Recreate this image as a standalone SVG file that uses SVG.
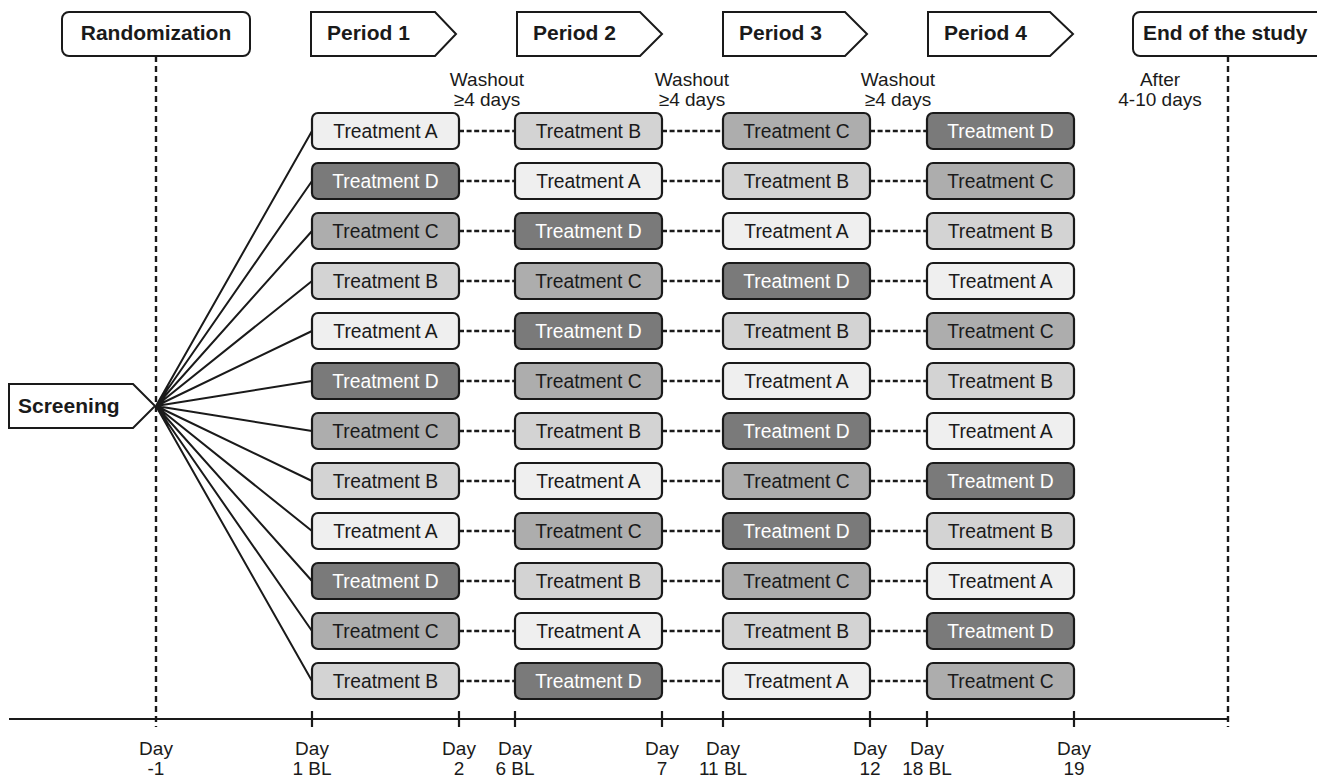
<svg xmlns="http://www.w3.org/2000/svg" width="1317" height="777" viewBox="0 0 1317 777">
<style>
.hdr{fill:#fff;stroke:#1a1a1a;stroke-width:2}
.ht{font-family:"Liberation Sans",Arial,sans-serif;font-weight:bold;font-size:21px;fill:#1a1a1a}
.lbl{font-family:"Liberation Sans",Arial,sans-serif;font-size:19px;fill:#1a1a1a;text-anchor:middle}
.bx{stroke:#1a1a1a;stroke-width:2.2}
.A{fill:#efefef}.B{fill:#d3d3d3}.C{fill:#adadad}.D{fill:#7a7a7a}
.tt{font-family:"Liberation Sans",Arial,sans-serif;font-size:19.3px;fill:#1a1a1a;text-anchor:middle}
.tw{fill:#ffffff}
.dash{stroke:#1a1a1a;stroke-width:2.4;stroke-dasharray:6,4;fill:none}
.cd{stroke:#1a1a1a;stroke-width:2.4;stroke-dasharray:5,2.6;fill:none}
.fan{stroke:#1a1a1a;stroke-width:2;fill:none}
.ax{stroke:#1a1a1a;stroke-width:2.2;fill:none}
</style>
<rect width="1317" height="777" fill="#fff"/>
<g id="timeline">
<line class="dash" x1="156" y1="56" x2="156" y2="727"/>
<line class="dash" x1="1228" y1="56" x2="1228" y2="727"/>
<line class="ax" x1="9" y1="719" x2="1228" y2="719"/>
<path class="ax" d="M312 711V727M459 711V727M515 711V727M662 711V727M723 711V727M870 711V727M927 711V727M1074 711V727"/>
<g class="lbl">
<text x="156" y="755">Day</text><text x="156" y="775">-1</text>
<text x="312" y="755">Day</text><text x="312" y="775">1 BL</text>
<text x="459" y="755">Day</text><text x="459" y="775">2</text>
<text x="515" y="755">Day</text><text x="515" y="775">6 BL</text>
<text x="662" y="755">Day</text><text x="662" y="775">7</text>
<text x="723" y="755">Day</text><text x="723" y="775">11 BL</text>
<text x="870" y="755">Day</text><text x="870" y="775">12</text>
<text x="927" y="755">Day</text><text x="927" y="775">18 BL</text>
<text x="1074" y="755">Day</text><text x="1074" y="775">19</text>
</g>
<g class="lbl">
<text x="487" y="86">Washout</text><text x="487" y="106">≥4 days</text>
<text x="692" y="86">Washout</text><text x="692" y="106">≥4 days</text>
<text x="898" y="86">Washout</text><text x="898" y="106">≥4 days</text>
<text x="1160" y="86">After</text><text x="1160" y="106">4-10 days</text>
</g>
</g>
<g id="randomization"><rect class="hdr" x="62" y="12" width="188" height="44" rx="7"/><text class="ht" x="156" y="40" text-anchor="middle">Randomization</text></g>
<g id="period1"><path class="hdr" d="M311 12H435L456 34L435 56H311Z"/><text class="ht" x="327" y="40">Period 1</text></g>
<g id="period2"><path class="hdr" d="M517 12H640L662 34L640 56H517Z"/><text class="ht" x="533" y="40">Period 2</text></g>
<g id="period3"><path class="hdr" d="M723 12H845L867 34L845 56H723Z"/><text class="ht" x="739" y="40">Period 3</text></g>
<g id="period4"><path class="hdr" d="M928 12H1050L1073 34L1050 56H928Z"/><text class="ht" x="944" y="40">Period 4</text></g>
<g id="end"><rect class="hdr" x="1133" y="12" width="200" height="44" rx="7"/><text class="ht" x="1143" y="40">End of the study</text></g>
<g id="screening"><path class="hdr" d="M9 384H133L155 406L133 428H9Z"/><text class="ht" x="18" y="413">Screening</text></g>
<g id="connectors">
<path class="fan" d="M156 406L312 131M156 406L312 181M156 406L312 231M156 406L312 281M156 406L312 331M156 406L312 381M156 406L312 431M156 406L312 481M156 406L312 531M156 406L312 581M156 406L312 631M156 406L312 681"/>
<path class="cd" d="M459 131H515M662 131H723M870 131H927M459 181H515M662 181H723M870 181H927M459 231H515M662 231H723M870 231H927M459 281H515M662 281H723M870 281H927M459 331H515M662 331H723M870 331H927M459 381H515M662 381H723M870 381H927M459 431H515M662 431H723M870 431H927M459 481H515M662 481H723M870 481H927M459 531H515M662 531H723M870 531H927M459 581H515M662 581H723M870 581H927M459 631H515M662 631H723M870 631H927M459 681H515M662 681H723M870 681H927"/>
</g>
<g id="row1">
<rect class="bx A" x="312" y="113" width="147" height="36" rx="6"/><text class="tt" x="385.5" y="138">Treatment A</text>
<rect class="bx B" x="515" y="113" width="147" height="36" rx="6"/><text class="tt" x="588.5" y="138">Treatment B</text>
<rect class="bx C" x="723" y="113" width="147" height="36" rx="6"/><text class="tt" x="796.5" y="138">Treatment C</text>
<rect class="bx D" x="927" y="113" width="147" height="36" rx="6"/><text class="tt tw" x="1000.5" y="138">Treatment D</text>
</g>
<g id="row2">
<rect class="bx D" x="312" y="163" width="147" height="36" rx="6"/><text class="tt tw" x="385.5" y="188">Treatment D</text>
<rect class="bx A" x="515" y="163" width="147" height="36" rx="6"/><text class="tt" x="588.5" y="188">Treatment A</text>
<rect class="bx B" x="723" y="163" width="147" height="36" rx="6"/><text class="tt" x="796.5" y="188">Treatment B</text>
<rect class="bx C" x="927" y="163" width="147" height="36" rx="6"/><text class="tt" x="1000.5" y="188">Treatment C</text>
</g>
<g id="row3">
<rect class="bx C" x="312" y="213" width="147" height="36" rx="6"/><text class="tt" x="385.5" y="238">Treatment C</text>
<rect class="bx D" x="515" y="213" width="147" height="36" rx="6"/><text class="tt tw" x="588.5" y="238">Treatment D</text>
<rect class="bx A" x="723" y="213" width="147" height="36" rx="6"/><text class="tt" x="796.5" y="238">Treatment A</text>
<rect class="bx B" x="927" y="213" width="147" height="36" rx="6"/><text class="tt" x="1000.5" y="238">Treatment B</text>
</g>
<g id="row4">
<rect class="bx B" x="312" y="263" width="147" height="36" rx="6"/><text class="tt" x="385.5" y="288">Treatment B</text>
<rect class="bx C" x="515" y="263" width="147" height="36" rx="6"/><text class="tt" x="588.5" y="288">Treatment C</text>
<rect class="bx D" x="723" y="263" width="147" height="36" rx="6"/><text class="tt tw" x="796.5" y="288">Treatment D</text>
<rect class="bx A" x="927" y="263" width="147" height="36" rx="6"/><text class="tt" x="1000.5" y="288">Treatment A</text>
</g>
<g id="row5">
<rect class="bx A" x="312" y="313" width="147" height="36" rx="6"/><text class="tt" x="385.5" y="338">Treatment A</text>
<rect class="bx D" x="515" y="313" width="147" height="36" rx="6"/><text class="tt tw" x="588.5" y="338">Treatment D</text>
<rect class="bx B" x="723" y="313" width="147" height="36" rx="6"/><text class="tt" x="796.5" y="338">Treatment B</text>
<rect class="bx C" x="927" y="313" width="147" height="36" rx="6"/><text class="tt" x="1000.5" y="338">Treatment C</text>
</g>
<g id="row6">
<rect class="bx D" x="312" y="363" width="147" height="36" rx="6"/><text class="tt tw" x="385.5" y="388">Treatment D</text>
<rect class="bx C" x="515" y="363" width="147" height="36" rx="6"/><text class="tt" x="588.5" y="388">Treatment C</text>
<rect class="bx A" x="723" y="363" width="147" height="36" rx="6"/><text class="tt" x="796.5" y="388">Treatment A</text>
<rect class="bx B" x="927" y="363" width="147" height="36" rx="6"/><text class="tt" x="1000.5" y="388">Treatment B</text>
</g>
<g id="row7">
<rect class="bx C" x="312" y="413" width="147" height="36" rx="6"/><text class="tt" x="385.5" y="438">Treatment C</text>
<rect class="bx B" x="515" y="413" width="147" height="36" rx="6"/><text class="tt" x="588.5" y="438">Treatment B</text>
<rect class="bx D" x="723" y="413" width="147" height="36" rx="6"/><text class="tt tw" x="796.5" y="438">Treatment D</text>
<rect class="bx A" x="927" y="413" width="147" height="36" rx="6"/><text class="tt" x="1000.5" y="438">Treatment A</text>
</g>
<g id="row8">
<rect class="bx B" x="312" y="463" width="147" height="36" rx="6"/><text class="tt" x="385.5" y="488">Treatment B</text>
<rect class="bx A" x="515" y="463" width="147" height="36" rx="6"/><text class="tt" x="588.5" y="488">Treatment A</text>
<rect class="bx C" x="723" y="463" width="147" height="36" rx="6"/><text class="tt" x="796.5" y="488">Treatment C</text>
<rect class="bx D" x="927" y="463" width="147" height="36" rx="6"/><text class="tt tw" x="1000.5" y="488">Treatment D</text>
</g>
<g id="row9">
<rect class="bx A" x="312" y="513" width="147" height="36" rx="6"/><text class="tt" x="385.5" y="538">Treatment A</text>
<rect class="bx C" x="515" y="513" width="147" height="36" rx="6"/><text class="tt" x="588.5" y="538">Treatment C</text>
<rect class="bx D" x="723" y="513" width="147" height="36" rx="6"/><text class="tt tw" x="796.5" y="538">Treatment D</text>
<rect class="bx B" x="927" y="513" width="147" height="36" rx="6"/><text class="tt" x="1000.5" y="538">Treatment B</text>
</g>
<g id="row10">
<rect class="bx D" x="312" y="563" width="147" height="36" rx="6"/><text class="tt tw" x="385.5" y="588">Treatment D</text>
<rect class="bx B" x="515" y="563" width="147" height="36" rx="6"/><text class="tt" x="588.5" y="588">Treatment B</text>
<rect class="bx C" x="723" y="563" width="147" height="36" rx="6"/><text class="tt" x="796.5" y="588">Treatment C</text>
<rect class="bx A" x="927" y="563" width="147" height="36" rx="6"/><text class="tt" x="1000.5" y="588">Treatment A</text>
</g>
<g id="row11">
<rect class="bx C" x="312" y="613" width="147" height="36" rx="6"/><text class="tt" x="385.5" y="638">Treatment C</text>
<rect class="bx A" x="515" y="613" width="147" height="36" rx="6"/><text class="tt" x="588.5" y="638">Treatment A</text>
<rect class="bx B" x="723" y="613" width="147" height="36" rx="6"/><text class="tt" x="796.5" y="638">Treatment B</text>
<rect class="bx D" x="927" y="613" width="147" height="36" rx="6"/><text class="tt tw" x="1000.5" y="638">Treatment D</text>
</g>
<g id="row12">
<rect class="bx B" x="312" y="663" width="147" height="36" rx="6"/><text class="tt" x="385.5" y="688">Treatment B</text>
<rect class="bx D" x="515" y="663" width="147" height="36" rx="6"/><text class="tt tw" x="588.5" y="688">Treatment D</text>
<rect class="bx A" x="723" y="663" width="147" height="36" rx="6"/><text class="tt" x="796.5" y="688">Treatment A</text>
<rect class="bx C" x="927" y="663" width="147" height="36" rx="6"/><text class="tt" x="1000.5" y="688">Treatment C</text>
</g>
</svg>
